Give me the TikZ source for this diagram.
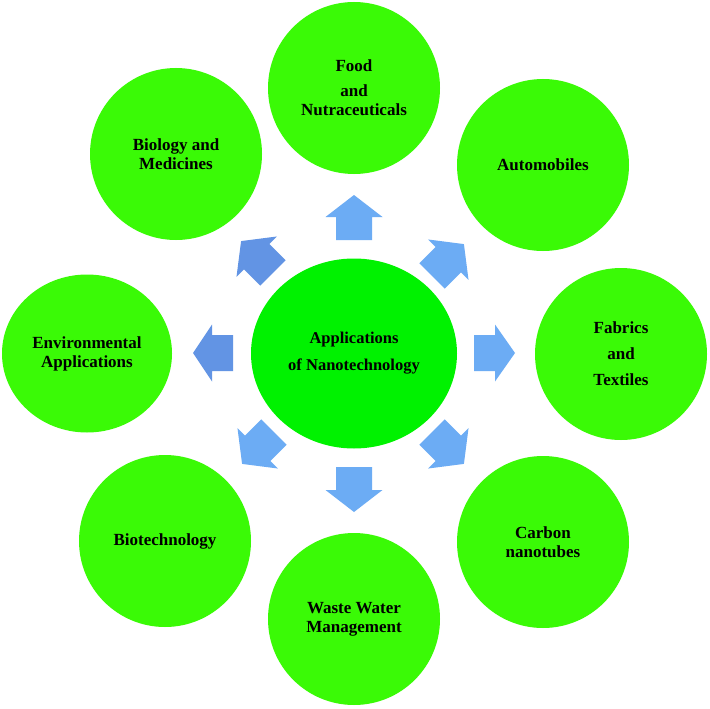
\documentclass[tikz,border=0pt]{standalone}
\usepackage{fontspec}
\setmainfont{Liberation Serif}
\usetikzlibrary{shapes.geometric}
\definecolor{outergreen}{RGB}{58,250,6}
\definecolor{centergreen}{RGB}{0,242,0}
\definecolor{lightblue}{RGB}{108,172,244}
\definecolor{darkblue}{RGB}{98,148,228}
\tikzset{
  bubble/.style={circle, fill=outergreen, minimum size=172pt, inner sep=0pt,
    align=center, font=\bfseries\fontsize{17}{19}\selectfont},
  hub/.style={ellipse, fill=centergreen, minimum width=206pt, minimum height=190pt,
    inner sep=0pt, align=center, font=\bfseries\fontsize{16.5}{19}\selectfont},
}
% block arrow: x, y, screen angle, colour, length, head length
\newcommand\blockarrow[6]{%
  \fill[#4, shift={(#1,#2)}, rotate=#3]
    (-#5/2,18) -- (#5/2-#6,18) -- (#5/2-#6,28.5) -- (#5/2,0)
    -- (#5/2-#6,-28.5) -- (#5/2-#6,-18) -- (-#5/2,-18) -- cycle;}
\begin{document}
\begin{tikzpicture}[x=1pt,y=-1pt]
\useasboundingbox (0,0) rectangle (710,709);
\fill[white] (0,0) rectangle (710,709);

\node[hub] (hub) at (354,353.5) {Applications\\[8pt]of Nanotechnology};

\node[bubble] (food) at (354,88) {Food\\[6pt]and\\Nutraceuticals};
\node[bubble] (auto) at (543,165) {Automobiles};
\node[bubble] (fab) at (621,354) {Fabrics\\[7pt]and\\[7pt]Textiles};
\node[bubble] (carb) at (543,542) {Carbon\\nanotubes};
\node[bubble] (waste) at (354,619) {Waste Water\\Management};
\node[bubble] (biot) at (165,541) {Biotechnology};
\node[bubble, ellipse, minimum width=170pt, minimum height=158pt] (env) at (87,353.5) {Environmental\\Applications};
\node[bubble] (biol) at (176,154) {Biology and\\Medicines};

\blockarrow{354}{217.5}{90}{lightblue}{45}{22}
\blockarrow{354}{489.5}{270}{lightblue}{45}{22}
\blockarrow{213}{353}{180}{darkblue}{40}{19}
\blockarrow{494.5}{353}{0}{lightblue}{41}{20}
\blockarrow{257}{257}{135}{darkblue}{45}{22}
\blockarrow{448}{260}{45}{lightblue}{45}{22}
\blockarrow{258}{448}{225}{lightblue}{45}{22}
\blockarrow{448}{448}{315}{lightblue}{45}{22}
\end{tikzpicture}
\end{document}
